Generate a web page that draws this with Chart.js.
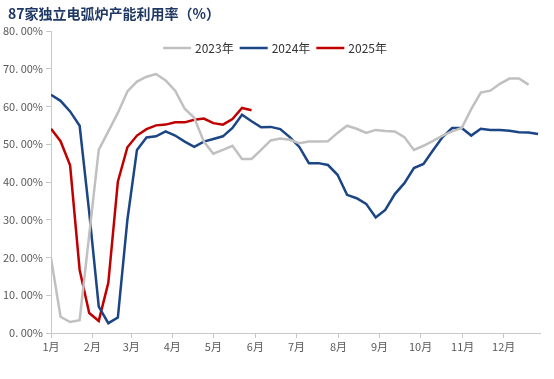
<!DOCTYPE html>
<html><head><meta charset="utf-8">
<script src="https://cdn.jsdelivr.net/npm/chart.js@4.4.1/dist/chart.umd.min.js"></script>
<style>html,body{margin:0;padding:0;background:#fff;}#wrap{position:relative;width:554px;height:379px;}</style>
</head><body><div id="wrap"><canvas id="c" width="554" height="379"></canvas></div>
<script>
const titleText = '87家独立电弧炉产能利用率（%）';
const seriesNames = ['2023年', '2024年', '2025年'];
const monthLabels = ['1月','2月','3月','4月','5月','6月','7月','8月','9月','10月','11月','12月'];
// month start positions, in weeks from the first week
const monthPos = [0, 4.33, 8.4, 12.7, 17.0, 21.4, 25.7, 30.1, 34.4, 38.7, 43.1, 47.4];
const yTickLabels = ['0. 00%','10. 00%','20. 00%','30. 00%','40. 00%','50. 00%','60. 00%','70. 00%','80. 00%'];
const v2023 = [19.9,4.3,2.9,3.4,26,48.5,53.4,58.3,64.0,66.6,67.9,68.6,66.9,64.2,59.4,57.0,50.7,47.5,48.5,49.6,46.1,46.1,48.5,51.0,51.5,51.2,50.3,50.7,50.7,50.8,53.0,54.9,54.1,53.0,53.8,53.5,53.4,51.9,48.5,49.6,50.9,52.3,53.4,54.3,59.3,63.7,64.2,66.0,67.4,67.4,65.8];
const v2024 = [63.1,61.5,58.7,54.9,32,7.0,2.6,4.1,30,48.5,51.8,52.1,53.4,52.3,50.7,49.3,50.7,51.4,52.1,54.3,57.8,56.1,54.5,54.6,54.0,51.9,49.3,45.0,45.0,44.5,41.9,36.6,35.7,34.2,30.6,32.6,36.8,39.7,43.7,44.8,48.4,51.9,54.3,54.3,52.3,54.1,53.8,53.8,53.6,53.2,53.1,52.7];
const v2025 = [54.1,50.8,44.4,16.7,5.3,3.2,13.3,40.1,49.2,52.3,54.0,55.0,55.2,55.8,55.8,56.5,56.8,55.6,55.2,56.7,59.6,59.0];
const colors = ['#c0c0c0', '#1b4585', '#c00000'];

const toPts = arr => arr.map((v, i) => ({x: i, y: v}));
const fontFam = '"Noto Sans CJK SC", "Noto Sans", sans-serif';
const tickFont = {family: fontFam, size: 11};

const titleLegendPlugin = {
  id: 'titleLegend',
  afterDraw(chart) {
    const ctx = chart.ctx;
    ctx.save();
    ctx.font = 'bold 14px ' + fontFam;
    ctx.fillStyle = '#1f3864';
    ctx.textBaseline = 'middle';
    ctx.textAlign = 'left';
    ctx.fillText(titleText, 8, 14);
    // legend
    ctx.font = '12px ' + fontFam;
    const lineW = 28, gap = 4, itemGap = 6, cy = 48;
    const widths = chart.data.datasets.map(d => ctx.measureText(d.label).width);
    const total = widths.reduce((a, w) => a + lineW + gap + w, 0) + itemGap * (widths.length - 1);
    let x = 275 - total / 2;
    chart.data.datasets.forEach((d, i) => {
      ctx.strokeStyle = d.borderColor;
      ctx.lineWidth = 2.5;
      ctx.beginPath();
      ctx.moveTo(x, cy);
      ctx.lineTo(x + lineW, cy);
      ctx.stroke();
      x += lineW + gap;
      ctx.fillStyle = '#333333';
      ctx.fillText(d.label, x, cy);
      x += widths[i] + itemGap;
    });
    ctx.restore();
  }
};

new Chart(document.getElementById('c'), {
  type: 'line',
  data: {
    datasets: [v2023, v2024, v2025].map((arr, i) => ({
      label: seriesNames[i],
      data: toPts(arr),
      borderColor: colors[i],
      backgroundColor: colors[i],
      borderWidth: 2.5,
      pointRadius: 0,
      tension: 0,
      fill: false
    }))
  },
  options: {
    responsive: false,
    animation: false,
    layout: {padding: {top: 31, right: 14, left: 0, bottom: 0}},
    plugins: {
      tooltip: {enabled: false},
      title: {display: false},
      legend: {display: false}
    },
    scales: {
      x: {
        type: 'linear',
        min: 0,
        max: 51.2,
        afterBuildTicks: s => { s.ticks = monthPos.map(v => ({value: v})); },
        afterFit: s => { s.height = 46; },
        ticks: {
          autoSkip: false,
          maxRotation: 0,
          padding: 2,
          color: '#595959',
          font: tickFont,
          callback: (v, i) => monthLabels[i]
        },
        grid: {drawOnChartArea: false, drawTicks: true, tickLength: 5, color: '#c8c8c8'},
        border: {color: '#c8c8c8'}
      },
      y: {
        min: 0,
        max: 80,
        afterFit: s => { s.width = 51; },
        ticks: {
          stepSize: 10,
          padding: 3,
          color: '#595959',
          font: tickFont,
          callback: (v, i) => yTickLabels[i]
        },
        grid: {drawOnChartArea: false, drawTicks: true, tickLength: 5, color: '#c8c8c8'},
        border: {color: '#c8c8c8'}
      }
    }
  },
  plugins: [titleLegendPlugin]
});
</script></body></html>
